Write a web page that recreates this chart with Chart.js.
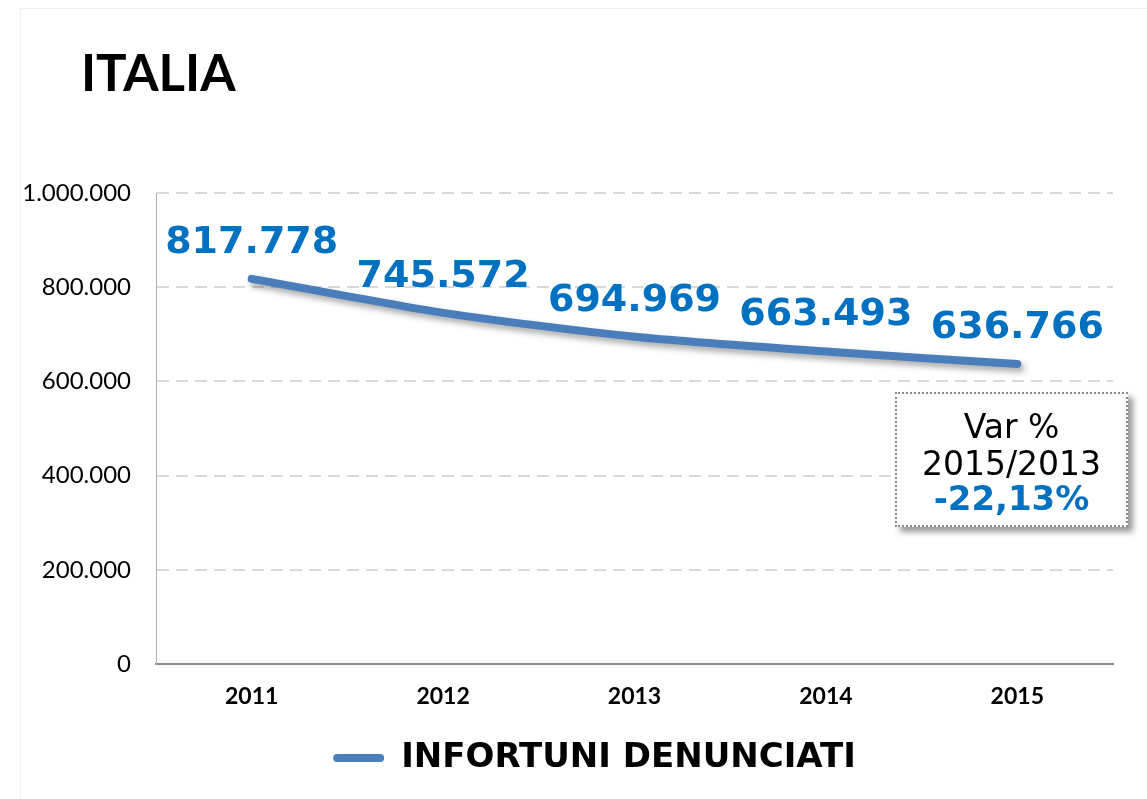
<!DOCTYPE html>
<html>
<head>
<meta charset="utf-8">
<script src="https://cdn.jsdelivr.net/npm/chart.js@4/dist/chart.umd.min.js"></script>
<style>
    body { margin: 0; background: #fff; }
    #wrap { position: relative; width: 1147px; height: 799px; overflow: hidden; }
    #frame { position: absolute; left: 20px; top: 8px; right: 0; bottom: 0; border-top: 1px solid #f0f0f0; border-left: 1px solid #f0f0f0; }
    #chart { position: absolute; left: 0; top: 0; }
    #title { position: absolute; left: 81px; top: 46px; font: bold 51px Lato, sans-serif; line-height: 1; color: #000; }
    #varbox {
        position: absolute; left: 895px; top: 392px; width: 229px; height: 117px;
        border: 2px dotted #8a8a8a; background: #fff;
        box-shadow: 5px 5px 6px rgba(0,0,0,0.4);
        font-family: "DejaVu Sans", Verdana, sans-serif; text-align: center;
        padding-top: 14px;
    }
    #varbox .l { font-size: 33px; line-height: 37px; }
    #varbox .v { font-size: 34px; line-height: 32px; font-weight: bold; color: #0070C0; }
</style>
</head>
<body>
<div id="wrap">
    <div id="frame"></div>
    <canvas id="chart" width="1147" height="799"></canvas>
    <div id="title">ITALIA</div>
    <div id="varbox"><div class="l">Var %</div><div class="l">2015/2013</div><div class="v">-22,13%</div></div>
</div>
<script>
const years = ['2011', '2012', '2013', '2014', '2015'];
const infortuni = [817778, 745572, 694969, 663493, 636766];
const seriesName = 'INFORTUNI DENUNCIATI';

const LINE_COLOR = '#4a7ebb';
const LABEL_COLOR = '#0070C0';

function fmt(v) {
    return String(v).replace(/\B(?=(\d{3})+(?!\d))/g, '.');
}

// shadow under the line, like the excel original
const lineShadow = {
    id: 'lineShadow',
    beforeDatasetDraw(chart) {
        const ctx = chart.ctx;
        ctx.save();
        ctx.shadowColor = 'rgba(0,0,0,0.35)';
        ctx.shadowBlur = 6;
        ctx.shadowOffsetX = 3;
        ctx.shadowOffsetY = 4;
    },
    afterDatasetDraw(chart) {
        chart.ctx.restore();
    }
};

// value labels above each point
const valueLabels = {
    id: 'valueLabels',
    afterDatasetsDraw(chart) {
        const ctx = chart.ctx;
        const meta = chart.getDatasetMeta(0);
        ctx.save();
        ctx.font = 'bold 38px "DejaVu Sans", Verdana, sans-serif';
        ctx.fillStyle = LABEL_COLOR;
        ctx.textAlign = 'center';
        ctx.textBaseline = 'alphabetic';
        meta.data.forEach((pt, i) => {
            ctx.fillText(fmt(chart.data.datasets[0].data[i]), pt.x, pt.y - 26);
        });
        ctx.restore();
    }
};

// the legend sits a bit right of centre in the original
const legendShift = {
    id: 'legendShift',
    afterLayout(chart) {
        chart.legend.left += 38;
        chart.legend.right += 38;
    }
};

const ctx = document.getElementById('chart').getContext('2d');
new Chart(ctx, {
    type: 'line',
    data: {
        labels: years,
        datasets: [{
            label: seriesName,
            data: infortuni,
            borderColor: LINE_COLOR,
            backgroundColor: LINE_COLOR,
            borderWidth: 8,
            borderCapStyle: 'round',
            borderJoinStyle: 'round',
            tension: 0.25,
            pointRadius: 0,
            fill: false
        }]
    },
    options: {
        responsive: false,
        animation: false,
        layout: { padding: { top: 193, right: 34, left: 0, bottom: 14 } },
        plugins: {
            tooltip: { enabled: false },
            legend: {
                position: 'bottom',
                labels: {
                    boxWidth: 51,
                    boxHeight: 8,
                    padding: 10,
                    color: '#000',
                    font: { family: '"DejaVu Sans", Verdana, sans-serif', size: 34, weight: 'bold' },
                    generateLabels(chart) {
                        const items = Chart.defaults.plugins.legend.labels.generateLabels(chart);
                        items.forEach(it => { it.lineWidth = 0; it.borderRadius = 4; });
                        return items;
                    }
                }
            }
        },
        scales: {
            x: {
                offset: true,
                grid: { display: false, drawTicks: false },
                border: { display: true, color: '#8c8c8c', width: 2 },
                ticks: {
                    color: '#000',
                    padding: 19,
                    font: { family: 'Lato, sans-serif', size: 23, weight: 'bold' }
                },
                afterFit(scale) { scale.height = 67; }
            },
            y: {
                min: 0,
                max: 1000000,
                grid: {
                    drawTicks: false,
                    color: c => (c.tick && c.tick.value === 0) ? 'rgba(0,0,0,0)' : '#d9d9d9',
                    lineWidth: 2
                },
                border: { display: true, color: '#b0b0b0', width: 1, dash: [12, 7] },
                ticks: {
                    stepSize: 200000,
                    color: '#000',
                    padding: 25,
                    font: { family: 'Lato, sans-serif', size: 24 },
                    callback: v => fmt(v)
                },
                afterFit(scale) { scale.width = 156; }
            }
        }
    },
    plugins: [lineShadow, valueLabels, legendShift]
});
</script>
</body>
</html>
